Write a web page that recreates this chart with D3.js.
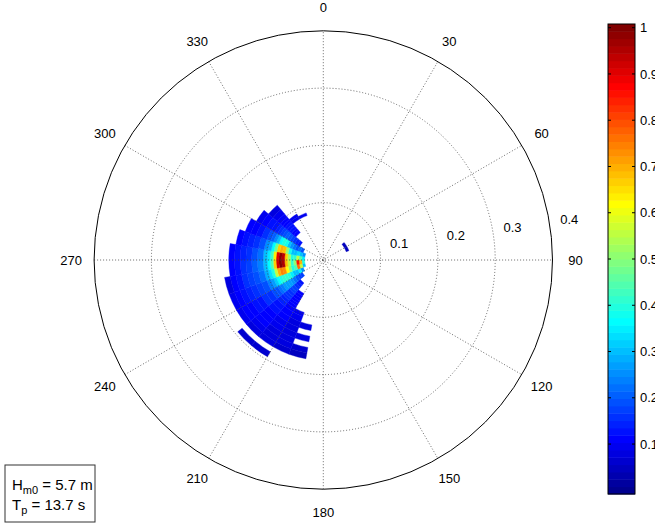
<!DOCTYPE html>
<html>
<head>
<meta charset="utf-8">
<script src="https://cdn.jsdelivr.net/npm/d3@7"></script>
<style>
  body { margin: 0; background: #fff; }
  text { font-family: "Liberation Sans", Arial, Helvetica, sans-serif; fill: #000; }
</style>
</head>
<body>
<div id="chart"></div>
<script>
// Frequency bin centres (Hz) - radial coordinate
const freqs = [0.030, 0.035, 0.040, 0.045, 0.050, 0.055, 0.060, 0.065, 0.070, 0.075,
               0.080, 0.085, 0.090, 0.095, 0.100, 0.110, 0.120, 0.130, 0.140, 0.150,
               0.160, 0.170, 0.180, 0.190];

// Direction bin centres (deg, clockwise from north)
const dirs = [185, 195, 205, 215, 225, 235, 245, 255, 265, 275, 285, 295, 305, 315, 325, 335];

// Normalised spectral density, one row per frequency, one column per direction (0 = empty)
const energy = [
  [0, 0, 0, 0, 0, 0, 0, 0, 0, 0, 0, 0, 0, 0, 0, 0],
  [0, 0, 0, 0, 0, 0, 0, .30, .40, .35, .25, 0, 0, 0, 0, 0],
  [0, 0, 0, 0, 0, 0, .25, .55, .70, .45, .30, .20, 0, 0, 0, 0],
  [0, 0, 0, 0, 0, .18, .35, .75, .85, .55, .33, .22, 0, 0, 0, 0],
  [0, 0, 0, 0, 0, .18, .30, .45, .50, .42, .30, .20, .14, 0, 0, 0],
  [0, 0, 0, 0, .14, .20, .30, .40, .42, .40, .30, .22, .15, 0, 0, 0],
  [0, 0, 0, 0, .15, .22, .35, .50, .55, .52, .38, .25, .16, 0, 0, 0],
  [0, 0, 0, 0, .16, .25, .40, .62, .68, .66, .50, .30, .18, .12, 0, 0],
  [0, 0, 0, .12, .18, .28, .42, .72, .95, .93, .68, .38, .20, .12, 0, 0],
  [0, 0, 0, .12, .18, .28, .42, .74, 1.0, .97, .70, .40, .21, .13, 0, 0],
  [0, 0, 0, .12, .17, .27, .40, .70, .92, .90, .66, .36, .20, .13, 0, 0],
  [0, 0, 0, .12, .16, .24, .36, .55, .66, .64, .48, .30, .18, .13, .10, .10],
  [0, 0, 0, .12, .16, .22, .32, .40, .44, .43, .36, .25, .17, .12, .10, 0],
  [0, 0, 0, .11, .15, .20, .27, .33, .36, .35, .29, .21, .15, .12, 0, 0],
  [0, 0, .10, .12, .15, .19, .24, .29, .31, .30, .25, .19, .14, .11, 0, 0],
  [0, 0, .10, .12, .14, .17, .20, .23, .24, .23, .20, .16, .13, .10, 0, 0],
  [0, .08, .09, .11, .13, .16, .18, .20, .21, .20, .17, .14, .11, .09, 0, 0],
  [0, 0, .09, .10, .12, .14, .16, .18, .18, .17, .15, .12, .10, 0, 0, 0],
  [0, .08, .09, .10, .12, .13, .15, .16, .16, .15, .13, .11, 0, 0, 0, 0],
  [0, 0, .08, .09, .11, .12, .13, .14, .14, .13, .11, 0, 0, 0, 0, 0],
  [0, .07, .08, .09, .10, .11, .12, .12, .12, .11, 0, 0, 0, 0, 0, 0],
  [0, .06, .07, .08, .09, .10, .10, .09, 0, 0, 0, 0, 0, 0, 0, 0],
  [0, 0, 0, 0, 0, 0, 0, 0, 0, 0, 0, 0, 0, 0, 0, 0],
  [0, 0, 0, .07, .07, 0, 0, 0, 0, 0, 0, 0, 0, 0, 0, 0]
];

// Small isolated patch on the opposite side
const patchFreq = 0.045;
const patchDirs = [55, 65];
const patchValues = [0.05, 0.06];

const ringTicks = [0.1, 0.2, 0.3, 0.4];
const rMax = 0.4;
const angleTicks = [0, 30, 60, 90, 120, 150, 180, 210, 240, 270, 300, 330];
const colorTicks = [0.1, 0.2, 0.3, 0.4, 0.5, 0.6, 0.7, 0.8, 0.9, 1];
const Hm0 = 5.7;
const Tp = 13.7;

const width = 655, height = 524;
const cx = 323.3, cy = 260, R = 229.2;

const svg = d3.select("#chart")
    .append("svg")
    .attr("width", width)
    .attr("height", height);

const rScale = d3.scaleLinear().domain([0, rMax]).range([0, R]);

// MATLAB jet(64)
function jet(m) {
    const n = Math.ceil(m / 4);
    const u = [];
    for (let i = 1; i <= n; i++) u.push(i / n);
    for (let i = 1; i < n; i++) u.push(1);
    for (let i = n; i >= 1; i--) u.push(i / n);
    const off = Math.ceil(n / 2) - (m % 4 === 1 ? 1 : 0);
    const J = Array.from({ length: m }, () => [0, 0, 0]);
    u.forEach((v, k) => {
        const g = off + k + 1, r = g + n, b = g - n;
        if (g >= 1 && g <= m) J[g - 1][1] = v;
        if (r >= 1 && r <= m) J[r - 1][0] = v;
        if (b >= 1 && b <= m) J[b - 1][2] = v;
    });
    return J.map(c => d3.rgb(c[0] * 255, c[1] * 255, c[2] * 255).formatHex());
}
const cmap = jet(64);
const color = v => cmap[Math.max(0, Math.min(63, Math.floor(v * 64)))];

// frequency bin edges from the centres
const edges = [freqs[0] - (freqs[1] - freqs[0]) / 2];
for (let i = 1; i < freqs.length; i++) edges.push((freqs[i - 1] + freqs[i]) / 2);
edges.push(freqs[freqs.length - 1] + (freqs[freqs.length - 1] - freqs[freqs.length - 2]) / 2);
const dStep = dirs[1] - dirs[0];

const cells = [];
energy.forEach((row, i) => row.forEach((v, j) => {
    if (v > 0) cells.push({ f0: edges[i], f1: edges[i + 1], d: dirs[j], v });
}));
const pi = freqs.indexOf(patchFreq);
patchDirs.forEach((d, j) => cells.push({ f0: edges[pi], f1: edges[pi + 1], d, v: patchValues[j] }));

const toRad = Math.PI / 180;
const arc = d3.arc()
    .innerRadius(d => rScale(d.f0))
    .outerRadius(d => rScale(d.f1))
    .startAngle(d => (d.d - dStep / 2) * toRad)
    .endAngle(d => (d.d + dStep / 2) * toRad);

const g = svg.append("g").attr("transform", `translate(${cx},${cy})`);

// white plot disc
g.append("circle").attr("r", R).attr("fill", "#fff");

// spectrum cells
g.selectAll("path.cell")
    .data(cells)
    .enter().append("path")
    .attr("class", "cell")
    .attr("d", arc)
    .attr("fill", d => color(d.v))
    .attr("stroke", d => color(d.v))
    .attr("stroke-width", 0.4);

// grid: spokes and rings
const grid = g.append("g")
    .attr("stroke", "#444")
    .attr("stroke-width", 0.8)
    .attr("stroke-dasharray", "1,2")
    .attr("fill", "none");

grid.selectAll("line")
    .data(angleTicks.filter(a => a < 180))
    .enter().append("line")
    .attr("x1", a => -R * Math.sin(a * toRad))
    .attr("y1", a => R * Math.cos(a * toRad))
    .attr("x2", a => R * Math.sin(a * toRad))
    .attr("y2", a => -R * Math.cos(a * toRad));

grid.selectAll("circle")
    .data(ringTicks.filter(r => r < rMax))
    .enter().append("circle")
    .attr("r", d => rScale(d));

// outer circle
g.append("circle")
    .attr("r", R)
    .attr("fill", "none")
    .attr("stroke", "#000")
    .attr("stroke-width", 1);

// angle labels
g.selectAll("text.ang")
    .data(angleTicks)
    .enter().append("text")
    .attr("class", "ang")
    .attr("x", a => 1.1 * R * Math.sin(a * toRad))
    .attr("y", a => -1.1 * R * Math.cos(a * toRad))
    .attr("text-anchor", "middle")
    .attr("dominant-baseline", "central")
    .attr("font-size", 13)
    .text(a => a);

// ring labels
const labAng = 82 * toRad;
g.selectAll("text.ring")
    .data(ringTicks)
    .enter().append("text")
    .attr("class", "ring")
    .attr("x", r => rScale(r) * Math.sin(labAng) + 10)
    .attr("y", r => -rScale(r) * Math.cos(labAng) - 4)
    .attr("font-size", 13)
    .text(r => r);

// colorbar
const cbX = 608, cbW = 27;
const half = 0.5 / 63;
const cbY = d3.scaleLinear().domain([-half, 1 + half]).range([494, 24]);

svg.append("g").selectAll("rect")
    .data(cmap)
    .enter().append("rect")
    .attr("x", cbX)
    .attr("y", (c, i) => cbY(i / 63 + half))
    .attr("width", cbW)
    .attr("height", (c, i) => cbY(i / 63 - half) - cbY(i / 63 + half) + 0.5)
    .attr("fill", c => c);

svg.append("rect")
    .attr("x", cbX).attr("y", cbY(1 + half))
    .attr("width", cbW).attr("height", cbY(-half) - cbY(1 + half))
    .attr("fill", "none").attr("stroke", "#000").attr("stroke-width", 1);

const cbTicks = svg.append("g").attr("stroke", "#000").attr("stroke-width", 1);
colorTicks.forEach(t => {
    cbTicks.append("line").attr("x1", cbX).attr("x2", cbX + 3).attr("y1", cbY(t)).attr("y2", cbY(t));
    cbTicks.append("line").attr("x1", cbX + cbW - 3).attr("x2", cbX + cbW).attr("y1", cbY(t)).attr("y2", cbY(t));
});

const cbAxis = svg.append("g")
    .attr("transform", `translate(${cbX + cbW},0)`)
    .call(d3.axisRight(cbY).tickValues(colorTicks).tickSize(0).tickPadding(5).tickFormat(d => d));
cbAxis.select(".domain").remove();
cbAxis.selectAll("text")
    .attr("font-size", 13)
    .attr("font-family", "Liberation Sans, Arial, sans-serif")
    .attr("fill", "#000");

// info box
svg.append("rect")
    .attr("x", 5).attr("y", 465)
    .attr("width", 90).attr("height", 57)
    .attr("fill", "#fff").attr("stroke", "#333").attr("stroke-width", 1);

const t1 = svg.append("text").attr("x", 12).attr("y", 490).attr("font-size", 15);
t1.append("tspan").text("H");
t1.append("tspan").attr("font-size", 11).attr("dy", 4).text("m0");
t1.append("tspan").attr("dy", -4).text(` = ${Hm0} m`);

const t2 = svg.append("text").attr("x", 12).attr("y", 510).attr("font-size", 15);
t2.append("tspan").text("T");
t2.append("tspan").attr("font-size", 11).attr("dy", 4).text("p");
t2.append("tspan").attr("dy", -4).text(` = ${Tp} s`);
</script>
</body>
</html>
